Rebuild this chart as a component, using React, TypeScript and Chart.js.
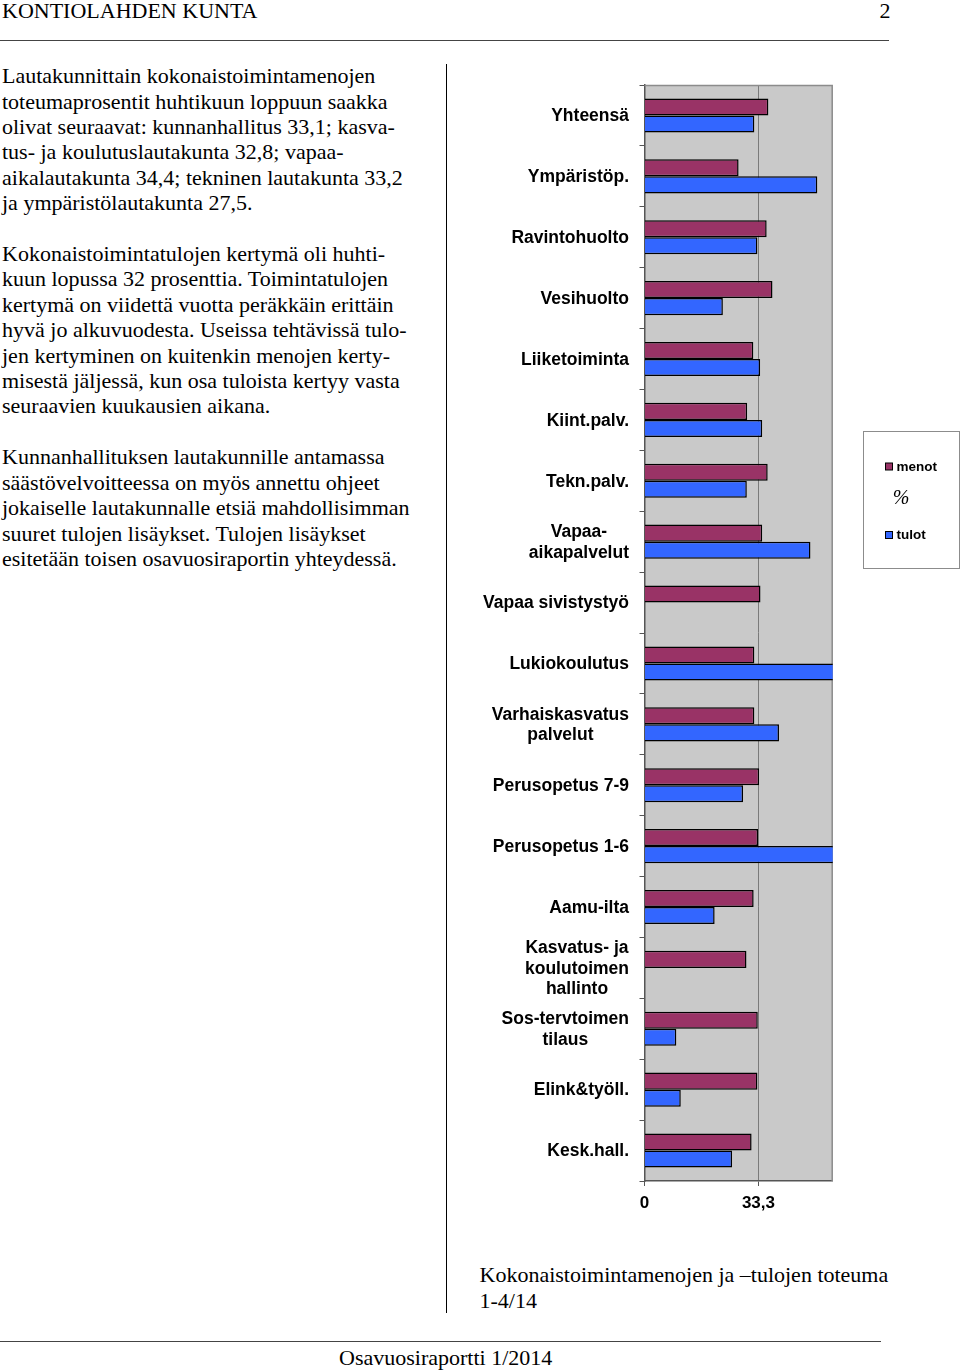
import React, { useEffect, useRef } from "react";
import { Chart, registerables } from "chart.js";

Chart.register(...registerables);

// ---------- data ----------
const categories: (string | string[])[] = [
  "Yhteensä",
  "Ympäristöp.",
  "Ravintohuolto",
  "Vesihuolto",
  "Liiketoiminta",
  "Kiint.palv.",
  "Tekn.palv.",
  ["Vapaa-", "aikapalvelut"],
  "Vapaa sivistystyö",
  "Lukiokoulutus",
  ["Varhaiskasvatus", "palvelut"],
  "Perusopetus 7-9",
  "Perusopetus 1-6",
  "Aamu-ilta",
  ["Kasvatus- ja", "koulutoimen", "hallinto"],
  ["Sos-tervtoimen", "tilaus"],
  "Elink&työll.",
  "Kesk.hall.",
];

const menot: (number | null)[] = [
  36.2, 27.5, 35.7, 37.4, 31.8, 30.0, 36.0, 34.4, 33.9, 32.1, 32.1, 33.5, 33.2,
  31.9, 29.8, 33.1, 33.0, 31.3,
];

const tulot: (number | null)[] = [
  32.1, 50.5, 33.0, 22.9, 33.8, 34.4, 29.9, 48.5, null, 60.0, 39.3, 28.8, 70.0,
  20.5, null, 9.3, 10.6, 25.6,
];

const seriesLabels = ["menot", "tulot"];
const unitLabel = "%";
const xTickValues = [0, 33.3];
const xMin = 0;
const xMax = 55;

// ---------- page text ----------
const bodyLines = [
  "Lautakunnittain kokonaistoimintamenojen",
  "toteumaprosentit huhtikuun loppuun saakka",
  "olivat seuraavat: kunnanhallitus 33,1; kasva-",
  "tus- ja koulutuslautakunta 32,8; vapaa-",
  "aikalautakunta 34,4; tekninen lautakunta 33,2",
  "ja ympäristölautakunta 27,5.",
  "",
  "Kokonaistoimintatulojen kertymä oli huhti-",
  "kuun lopussa 32 prosenttia. Toimintatulojen",
  "kertymä on viidettä vuotta peräkkäin erittäin",
  "hyvä jo alkuvuodesta. Useissa tehtävissä tulo-",
  "jen kertyminen on kuitenkin menojen kerty-",
  "misestä jäljessä, kun osa tuloista kertyy vasta",
  "seuraavien kuukausien aikana.",
  "",
  "Kunnanhallituksen lautakunnille antamassa",
  "säästövelvoitteessa on myös annettu ohjeet",
  "jokaiselle lautakunnalle etsiä mahdollisimman",
  "suuret tulojen lisäykset. Tulojen lisäykset",
  "esitetään toisen osavuosiraportin yhteydessä.",
];

const MENOT_COLOR = "#993366";
const TULOT_COLOR = "#3366FF";
const SANS = "'Liberation Sans', Arial, Helvetica, sans-serif";
const SERIF = "'Liberation Serif', 'Times New Roman', serif";

const CANVAS_LEFT = 460;
const CANVAS_TOP = 60;
const CANVAS_W = 500;
const CANVAS_H = 1180;

const decor = {
  id: "decor",
  beforeDraw(chart: any) {
    const { ctx, chartArea: a } = chart;
    ctx.save();
    ctx.fillStyle = "#C9C9C9";
    ctx.fillRect(a.left, a.top, a.right - a.left, a.bottom - a.top);
    ctx.restore();
  },
  beforeDatasetsDraw(chart: any) {
    const { ctx, chartArea: a } = chart;
    ctx.save();
    ctx.strokeStyle = "#8c8c8c";
    ctx.lineWidth = 1.5;
    ctx.beginPath();
    ctx.moveTo(a.left, a.top + 0.5);
    ctx.lineTo(a.right - 0.5, a.top + 0.5);
    ctx.lineTo(a.right - 0.5, a.bottom);
    ctx.stroke();
    ctx.restore();
  },
  afterDraw(chart: any) {
    const { ctx, chartArea: a } = chart;
    const yScale = chart.scales.y;
    ctx.save();
    // category labels (block right-aligned, lines centred)
    ctx.font = `bold 17.5px ${SANS}`;
    ctx.fillStyle = "#000";
    ctx.textBaseline = "middle";
    ctx.textAlign = "center";
    const rightX = a.left - 15.5;
    const lh = 20.3;
    categories.forEach((c, i) => {
      const lines = Array.isArray(c) ? c : [c];
      const w = Math.max(...lines.map((l) => ctx.measureText(l).width));
      const cx = rightX - w / 2;
      const py = yScale.getPixelForValue(i);
      lines.forEach((l, j) => {
        ctx.fillText(l, cx, py + (j - (lines.length - 1) / 2) * lh + 1);
      });
    });

    // legend
    const bx = 403.5;
    const by = 371.5;
    ctx.fillStyle = "#fff";
    ctx.fillRect(bx, by, 96, 137);
    ctx.strokeStyle = "#8c8c8c";
    ctx.lineWidth = 1;
    ctx.strokeRect(bx, by, 96, 137);

    const items = [
      { label: seriesLabels[0], color: MENOT_COLOR, y: 406.5 },
      { label: seriesLabels[1], color: TULOT_COLOR, y: 475 },
    ];
    ctx.textAlign = "left";
    ctx.font = `bold 13.5px ${SANS}`;
    items.forEach((it) => {
      ctx.fillStyle = it.color;
      ctx.fillRect(425.5, it.y - 3.5, 7, 7);
      ctx.strokeStyle = "#000";
      ctx.lineWidth = 1;
      ctx.strokeRect(425.5, it.y - 3.5, 7, 7);
      ctx.fillStyle = "#000";
      ctx.fillText(it.label, 436.5, it.y + 0.5);
    });
    ctx.font = `italic 20px ${SERIF}`;
    ctx.textAlign = "center";
    ctx.fillText(unitLabel, 441, 439);
    ctx.restore();
  },
};

function BarChart() {
  const ref = useRef<HTMLCanvasElement | null>(null);
  useEffect(() => {
    if (!ref.current) return;
    const chart = new Chart(ref.current, {
      type: "bar",
      data: {
        labels: categories as any,
        datasets: [
          {
            label: seriesLabels[0],
            data: menot,
            backgroundColor: MENOT_COLOR,
            borderColor: "#000",
            borderWidth: 1.5,
            categoryPercentage: 0.56,
            barPercentage: 1,
          },
          {
            label: seriesLabels[1],
            data: tulot,
            backgroundColor: TULOT_COLOR,
            borderColor: "#000",
            borderWidth: 1.5,
            categoryPercentage: 0.56,
            barPercentage: 1,
          },
        ],
      },
      options: {
        indexAxis: "y",
        responsive: false,
        animation: false,
        maintainAspectRatio: false,
        layout: { padding: { left: 0, right: 127.3, top: 25, bottom: 9 } },
        plugins: {
          legend: { display: false },
          tooltip: { enabled: false },
          title: { display: false },
        },
        scales: {
          x: {
            type: "linear",
            min: xMin,
            max: xMax,
            afterBuildTicks: (scale: any) => {
              scale.ticks = xTickValues.map((v) => ({ value: v }));
            },
            afterFit: (scale: any) => {
              scale.height = 50;
            },
            ticks: {
              autoSkip: false,
              color: "#000",
              font: { family: SANS, size: 17, weight: "bold" },
              padding: 7,
              callback: (v: any) => String(v).replace(".", ","),
            },
            grid: {
              color: (c: any) =>
                c.tick && c.tick.value === 0 ? "rgba(0,0,0,0)" : "#7a7a7a",
              lineWidth: 1,
              tickLength: 5,
              tickColor: "#555",
            },
            border: { color: "#555", width: 1.5 },
          },
          y: {
            type: "category",
            afterFit: (scale: any) => {
              scale.width = 184.5;
            },
            ticks: { display: false },
            grid: {
              offset: true,
              drawOnChartArea: false,
              drawTicks: true,
              tickLength: 5,
              tickColor: "#555",
            },
            border: { color: "#555", width: 1.5 },
          },
        },
      },
      plugins: [decor],
    } as any);
    return () => chart.destroy();
  }, []);
  return (
    <canvas
      ref={ref}
      width={CANVAS_W}
      height={CANVAS_H}
      style={{
        position: "absolute",
        left: CANVAS_LEFT,
        top: CANVAS_TOP,
        width: CANVAS_W,
        height: CANVAS_H,
      }}
    />
  );
}

export default function App() {
  const textStyle: React.CSSProperties = {
    position: "absolute",
    fontFamily: SERIF,
    fontSize: 22,
    lineHeight: "25.4px",
    whiteSpace: "pre",
    color: "#000",
    margin: 0,
  };
  return (
    <div
      style={{
        position: "absolute",
        left: 0,
        top: 0,
        width: 960,
        height: 1371,
        overflow: "hidden",
        background: "#fff",
      }}
    >
      <div style={{ ...textStyle, left: 2, top: -1.8 }}>KONTIOLAHDEN KUNTA</div>
      <div style={{ ...textStyle, left: 879.5, top: -1.8 }}>2</div>
      <div
        style={{
          position: "absolute",
          left: 0,
          top: 40,
          width: 889,
          height: 1,
          background: "#444",
        }}
      />
      <div style={{ ...textStyle, left: 2, top: 63.2 }}>
        {bodyLines.join("\n")}
      </div>
      <div
        style={{
          position: "absolute",
          left: 445.5,
          top: 63.5,
          width: 1.6,
          height: 1249,
          background: "#000",
        }}
      />
      <BarChart />
      <div style={{ ...textStyle, left: 479.5, top: 1261.6, lineHeight: "26.6px" }}>
        {"Kokonaistoimintamenojen ja \u2013tulojen toteuma\n1-4/14"}
      </div>
      <div
        style={{
          position: "absolute",
          left: 0,
          top: 1340.5,
          width: 881,
          height: 1,
          background: "#444",
        }}
      />
      <div style={{ ...textStyle, left: 339, top: 1344.9 }}>
        Osavuosiraportti 1/2014
      </div>
    </div>
  );
}
